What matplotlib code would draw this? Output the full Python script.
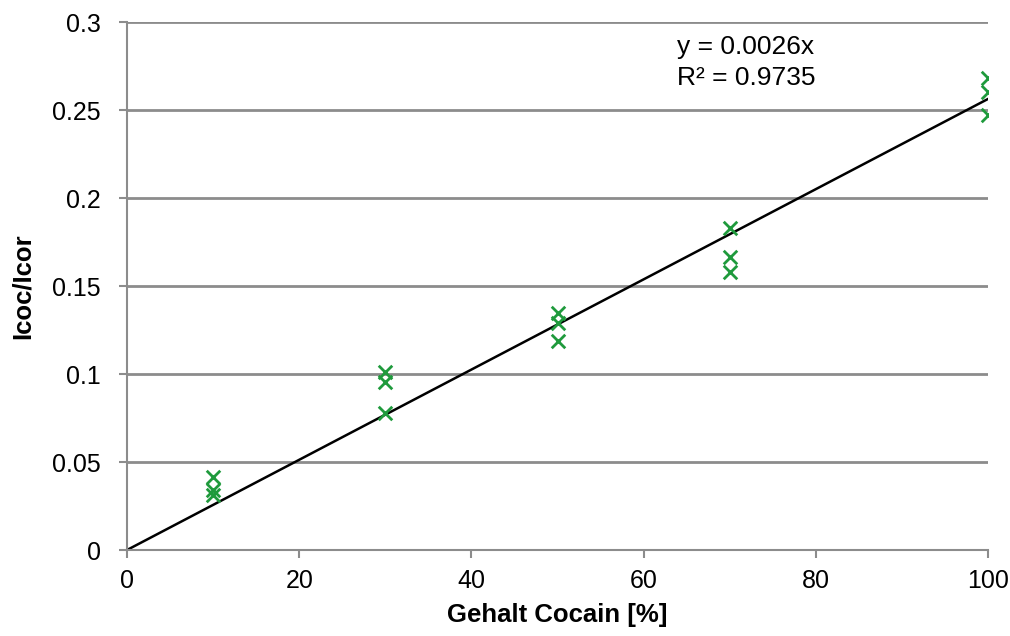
import numpy as np
import matplotlib.pyplot as plt

plt.rcParams["font.family"] = ["Liberation Sans", "DejaVu Sans"]

# Measured ratios per cocaine content
gehalt = [10, 10, 10, 30, 30, 30, 50, 50, 50, 70, 70, 70, 100, 100, 100]
ratio = [0.0415, 0.034, 0.031, 0.1013, 0.0956, 0.0778,
         0.1347, 0.129, 0.119, 0.183, 0.1665, 0.158,
         0.268, 0.260, 0.247]

x_ticks = [0, 20, 40, 60, 80, 100]
y_ticks = [0, 0.05, 0.1, 0.15, 0.2, 0.25, 0.3]
y_labels = ["0", "0.05", "0.1", "0.15", "0.2", "0.25", "0.3"]

# Linear fit through origin
x = np.array(gehalt, dtype=float)
y = np.array(ratio)
slope = (x * y).sum() / (x * x).sum()

fig = plt.figure(figsize=(10.1, 6.36), dpi=100)
ax = fig.add_axes([127 / 1010, 1 - 550 / 636, (988 - 127) / 1010, (550 - 22) / 636])

for yt in y_ticks[1:]:
    ax.axhline(yt, color="#8c8c8c", lw=2, zorder=0)

ax.plot([0, 100], [0, slope * 100], color="black", lw=1.8, zorder=2)
ax.scatter(gehalt, ratio, marker="x", s=95, color="#1f9a3c", linewidths=2, zorder=3)

# Trendline label
fig.text(677 / 1010, 1 - 47 / 636, "y = 0.0026x", fontsize=19, va="center")
fig.text(677 / 1010, 1 - 78 / 636, "R² = 0.9735", fontsize=19, va="center")

ax.set_xlim(0, 100)
ax.set_ylim(0, 0.3)
ax.set_xticks(x_ticks)
ax.set_yticks(y_ticks)
ax.set_yticklabels(y_labels)
ax.tick_params(labelsize=18, color="#8c8c8c", width=1.5, length=6)
ax.tick_params(axis="x", pad=8)
ax.tick_params(axis="y", pad=13)

for side in ["top", "right"]:
    ax.spines[side].set_visible(False)
for side in ["left", "bottom"]:
    ax.spines[side].set_color("#8c8c8c")
    ax.spines[side].set_linewidth(1.5)

ax.set_xlabel("Gehalt Cocain [%]", fontsize=18.5, fontweight="bold", labelpad=7)
ax.set_ylabel("Icoc/Icor", fontsize=18.5, fontweight="bold", labelpad=12)

fig.savefig("out.png", dpi=100)
